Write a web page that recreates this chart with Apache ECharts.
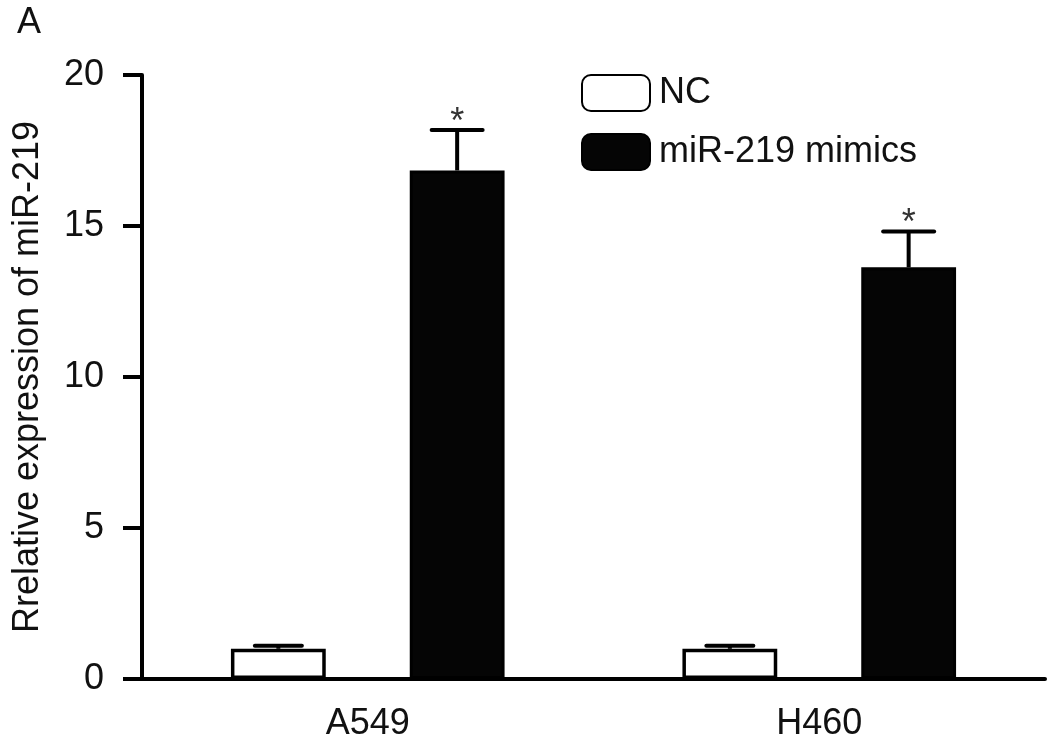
<!DOCTYPE html>
<html><head><meta charset="utf-8">
<script src="https://cdn.jsdelivr.net/npm/echarts@6/dist/echarts.min.js"></script>
<style>html,body{margin:0;padding:0;background:#fff}#c{width:1063px;height:752px}</style>
</head><body><div id="c"></div>
<script>
const categories = ['A549', 'H460'];
const seriesNames = ['NC', 'miR-219 mimics'];
const ncValues = [1.0, 1.0];
const ncErrors = [0.1, 0.1];
const mimicValues = [16.84, 13.63];
const mimicErrors = [1.34, 1.19];
const mimicMarks = ['*', '*'];
const ncMarks = ['', ''];
const yAxisTitle = 'Rrelative expression of miR-219';
const panelLabel = 'A';

const FF = '"Liberation Sans", Arial, Helvetica, sans-serif';
const TXT = '#111';
const FS = 36;
const BAR_FRAC = 0.21;
const OFFSET_FRAC = 0.198;
const GAP_PCT = ((2 * OFFSET_FRAC - BAR_FRAC) / BAR_FRAC * 100).toFixed(1) + '%';

function makeErr(side, capW, marks) {
  return function (params, api) {
    const i = api.value(0), v = api.value(1), e = api.value(2);
    const band = api.size([1, 0])[0];
    const base = api.coord([i, v]);
    const x = base[0] + side * band * OFFSET_FRAC;
    const y0 = base[1];
    const y1 = api.coord([i, v + e])[1];
    const children = [
      { type: 'line', shape: { x1: x, y1: y0, x2: x, y2: y1 }, style: { stroke: '#000', lineWidth: 4 } },
      { type: 'line', shape: { x1: x - capW / 2, y1: y1, x2: x + capW / 2, y2: y1 }, style: { stroke: '#000', lineWidth: 4, lineCap: 'round' } }
    ];
    const m = marks[params.dataIndex];
    if (m) {
      children.push({ type: 'text', style: { text: m, x: x, y: y1 - 7, align: 'center', verticalAlign: 'middle', fontSize: 36, fill: '#333', fontFamily: FF } });
    }
    return { type: 'group', children };
  };
}

const chart = echarts.init(document.getElementById('c'), null, { renderer: 'canvas' });
chart.setOption({
  animation: false,
  backgroundColor: '#fff',
  title: { text: panelLabel, left: 17, top: 5, padding: 0, textStyle: { fontFamily: FF, fontSize: FS, fontWeight: 'normal', color: TXT } },
  legend: {
    orient: 'vertical', left: 581, top: 74, padding: 0, itemWidth: 68, itemHeight: 36, itemGap: 21,
    icon: 'roundRect',
    textStyle: { fontFamily: FF, fontSize: FS, color: TXT, lineHeight: 36, padding: [0, 0, 0, 4] },
    data: seriesNames
  },
  grid: { left: 142, right: 18, top: 75, bottom: 73, containLabel: false },
  xAxis: {
    type: 'category', data: categories,
    axisLine: { lineStyle: { color: '#000', width: 4, cap: 'round' } },
    axisTick: { alignWithLabel: true, length: 19, lineStyle: { color: '#000', width: 4 } },
    axisLabel: { fontFamily: FF, fontSize: FS, color: TXT, margin: 27 }
  },
  yAxis: {
    type: 'value', min: 0, max: 20, interval: 5,
    name: yAxisTitle, nameLocation: 'middle', nameGap: 96, nameRotate: 90,
    nameTextStyle: { fontFamily: FF, fontSize: FS, color: TXT },
    splitLine: { show: false },
    axisLine: { show: true, lineStyle: { color: '#000', width: 4, cap: 'round' } },
    axisTick: { show: true, length: 19, lineStyle: { color: '#000', width: 4 } },
    axisLabel: { fontFamily: FF, fontSize: FS, color: TXT, margin: 38 }
  },
  series: [
    {
      name: seriesNames[0], type: 'bar', data: ncValues, barWidth: (BAR_FRAC * 100) + '%', barGap: GAP_PCT,
      itemStyle: { color: '#fff', borderColor: '#000', borderWidth: 3.5 }, z: 2
    },
    {
      name: seriesNames[1], type: 'bar', data: mimicValues, barWidth: (BAR_FRAC * 100) + '%', barGap: GAP_PCT,
      itemStyle: { color: '#050505', borderColor: '#000', borderWidth: 3 }, z: 2
    },
    {
      type: 'custom', name: 'nc-err', silent: true, z: 3,
      data: categories.map((c, i) => [i, ncValues[i], ncErrors[i]]),
      renderItem: makeErr(-1, 47, ncMarks)
    },
    {
      type: 'custom', name: 'mimic-err', silent: true, z: 3,
      data: categories.map((c, i) => [i, mimicValues[i], mimicErrors[i]]),
      renderItem: makeErr(1, 51, mimicMarks)
    }
  ]
});
</script></body></html>
